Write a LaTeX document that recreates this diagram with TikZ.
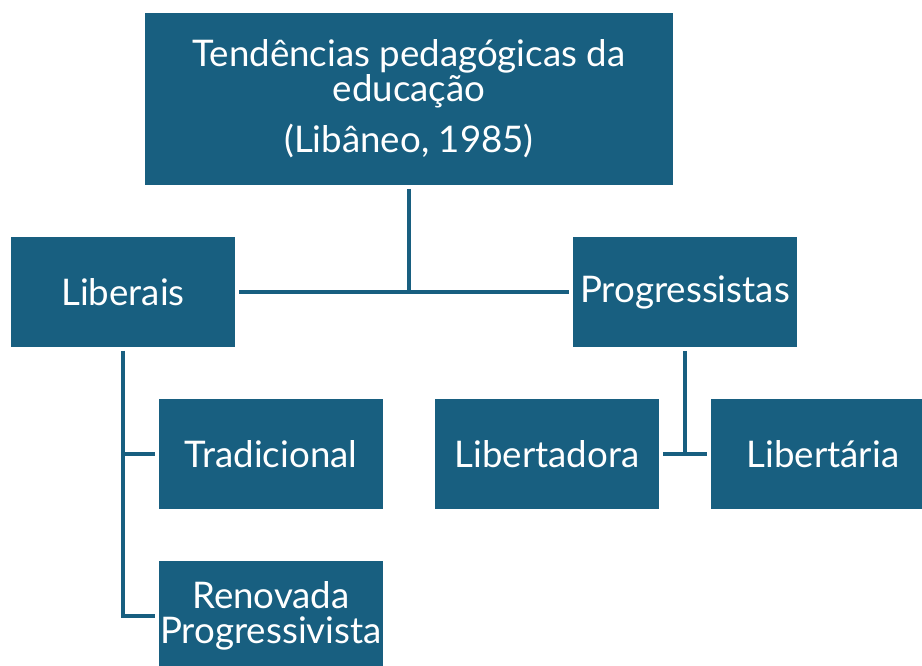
\documentclass[tikz,border=0pt]{standalone}
\usepackage{fontspec}
\setmainfont{Lato}
\usetikzlibrary{positioning}
\definecolor{tealblue}{RGB}{24,95,128}
\tikzset{
    % Boxes
    box/.style={fill=tealblue,text=white,minimum width=168pt,minimum height=82.5pt,
        inner sep=0pt,outer sep=3pt,align=center},
    big box/.style={box,minimum width=396pt,minimum height=129pt},
    %
    % Connectors
    link/.style={draw=tealblue,line width=2.3pt},
}
\tikzstyle{every node}=[font=\fontsize{27.5}{26}\selectfont]

\begin{document}
\begin{tikzpicture}[x=0.75pt,y=-0.75pt]
        \useasboundingbox (0,0) rectangle (922,666);
        \clip (0,0) rectangle (922,666);
        \node[big box] (tendencias) at (409,99) {Tendências pedagógicas da\\educação\\[11pt](Libâneo, 1985)};
        \node[box] (liberais) at (123,292) {Liberais};
        \node[box] (progressistas) at (685,292) {Progressistas};
        \node[box] (tradicional) at (271,454) {Tradicional};
        \node[box] (renovada) at (271,616) {Renovada\\Progressivista};
        \node[box] (libertadora) at (547,454) {Libertadora};
        \node[box] (libertaria) at (823,454) {Libertária};
        \draw[link] (tendencias.south) -- (tendencias.south |- liberais.east);
        \draw[link] (liberais.east) -- (progressistas.west);
        \draw[link] (liberais.south) |- (tradicional.west);
        \draw[link] (liberais.south) |- (renovada.west);
        \draw[link] (progressistas.south) -- (progressistas.south |- libertadora.east);
        \draw[link] (libertadora.east) -- (libertaria.west);
    \end{tikzpicture}
\end{document}
